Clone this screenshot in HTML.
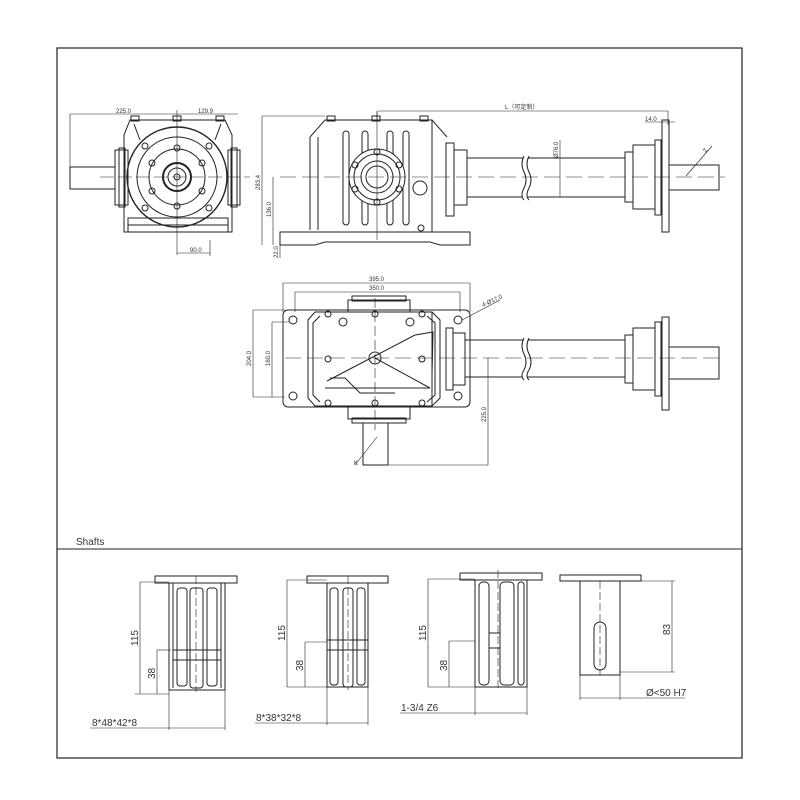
<!DOCTYPE html>
<html><head><meta charset="utf-8"><style>
html,body{margin:0;padding:0;background:#fff;}
svg{display:block;}
text{font-family:"Liberation Sans","Noto Sans CJK SC",sans-serif;fill:#333;}
</style></head><body>
<svg width="800" height="800" viewBox="0 0 800 800" xmlns="http://www.w3.org/2000/svg">
<g fill="none" stroke="#222" stroke-width="1">
<!-- frame -->
<rect x="57" y="48" width="685" height="710" stroke-width="1.2"/>
<line x1="57" y1="549" x2="742" y2="549"/>

<!-- ===== Front view (top-left) ===== -->
<line x1="70" y1="114" x2="238" y2="114" stroke-width="0.6"/>
<line x1="70" y1="114" x2="70" y2="189" stroke-width="0.6"/>
<rect x="70" y="167" width="45" height="22"/>
<path d="M130 120 H225 L232 135 V232 H124 V135 Z"/>
<path d="M134 124 L140 140 M221 124 L215 140"/>
<rect x="115" y="150" width="13" height="55"/>
<rect x="119" y="148" width="6" height="59"/>
<rect x="228" y="150" width="12" height="55"/>
<rect x="231" y="148" width="6" height="59"/>
<rect x="128" y="218" width="100" height="14"/>
<line x1="128" y1="225" x2="228" y2="225"/>
<circle cx="177" cy="177" r="50" stroke-width="1.4"/>
<circle cx="177" cy="177" r="40"/>
<circle cx="177" cy="177" r="28"/>
<circle cx="177" cy="177" r="14" stroke-width="2"/>
<circle cx="177" cy="177" r="9"/>
<circle cx="177" cy="177" r="3"/>
<circle cx="177" cy="148" r="3"/><circle cx="177" cy="206" r="3"/>
<circle cx="152" cy="163" r="3"/><circle cx="202" cy="163" r="3"/>
<circle cx="152" cy="191" r="3"/><circle cx="202" cy="191" r="3"/>
<circle cx="145" cy="146" r="3"/><circle cx="209" cy="146" r="3"/>
<circle cx="145" cy="208" r="3"/><circle cx="209" cy="208" r="3"/>
<rect x="173" y="116" width="8" height="5"/><rect x="131" y="116" width="8" height="5"/><rect x="216" y="116" width="8" height="5"/>
<line x1="177" y1="110" x2="177" y2="255" stroke-width="0.6"/>
<line x1="100" y1="177" x2="250" y2="177" stroke-width="0.6" stroke-dasharray="14 4"/>
<line x1="177" y1="253" x2="210" y2="253" stroke-width="0.6"/>
<line x1="210" y1="240" x2="210" y2="256" stroke-width="0.6"/>

<!-- ===== Side view (top-right) ===== -->
<line x1="262" y1="116" x2="262" y2="245" stroke-width="0.6"/>
<line x1="262" y1="116" x2="325" y2="116" stroke-width="0.6"/>
<line x1="273" y1="177" x2="273" y2="245" stroke-width="0.6"/>
<line x1="280" y1="232" x2="280" y2="258" stroke-width="0.6"/>
<line x1="377" y1="111" x2="668" y2="111" stroke-width="0.6"/>
<line x1="377" y1="111" x2="377" y2="120" stroke-width="0.6"/>
<line x1="668" y1="111" x2="668" y2="125" stroke-width="0.6"/>
<line x1="645" y1="122" x2="675" y2="122" stroke-width="0.6"/>
<path d="M310 137 L325 120 H432 L447 137"/>
<path d="M310 137 V230 M432 120 V232"/>
<path d="M318 137 V230"/>
<path d="M280 232 H470 V245 H440 L430 242 H325 L315 245 H280 Z"/>
<rect x="343" y="131" width="6" height="94" rx="3"/>
<rect x="362" y="131" width="6" height="94" rx="3"/>
<rect x="387" y="131" width="6" height="94" rx="3"/>
<rect x="403" y="131" width="6" height="94" rx="3"/>
<circle cx="377" cy="177" r="28" fill="#fff"/>
<circle cx="377" cy="177" r="23"/>
<circle cx="377" cy="177" r="16"/>
<circle cx="377" cy="177" r="11"/>
<circle cx="377" cy="152" r="3"/><circle cx="377" cy="202" r="3"/>
<circle cx="355" cy="165" r="3"/><circle cx="399" cy="165" r="3"/>
<circle cx="355" cy="189" r="3"/><circle cx="399" cy="189" r="3"/>
<circle cx="420" cy="188" r="7"/>
<circle cx="421" cy="228" r="3"/>
<rect x="372" y="116" width="8" height="5"/><rect x="327" y="116" width="8" height="5"/><rect x="420" y="116" width="8" height="5"/>
<rect x="446" y="143" width="8" height="73"/>
<rect x="454" y="150" width="13" height="55"/>
<path d="M467 158 H523 M528 158 H625 M467 197 H522 M527 197 H625"/>
<path d="M524 156 q-4 8 0 16 q4 8 0 16 q-4 8 0 12 M529 156 q-4 8 0 16 q4 8 0 16 q-4 8 0 12"/>
<line x1="560" y1="140" x2="560" y2="197" stroke-width="0.6"/>
<rect x="625" y="152" width="8" height="50"/>
<rect x="633" y="145" width="22" height="64"/>
<rect x="655" y="140" width="6" height="75"/>
<rect x="662" y="120" width="7" height="112"/>
<rect x="669" y="165" width="50" height="25"/>
<line x1="686" y1="176" x2="712" y2="146" stroke-width="0.6"/>
<line x1="280" y1="177" x2="725" y2="177" stroke-width="0.6" stroke-dasharray="16 6"/>
<line x1="377" y1="112" x2="377" y2="240" stroke-width="0.6"/>

<!-- ===== Plan view (middle) ===== -->
<line x1="283" y1="283" x2="470" y2="283" stroke-width="0.6"/>
<line x1="283" y1="283" x2="283" y2="312" stroke-width="0.6"/>
<line x1="470" y1="283" x2="470" y2="312" stroke-width="0.6"/>
<line x1="295" y1="292" x2="460" y2="292" stroke-width="0.6"/>
<line x1="295" y1="292" x2="295" y2="312" stroke-width="0.6"/>
<line x1="460" y1="292" x2="460" y2="312" stroke-width="0.6"/>
<line x1="253" y1="310" x2="253" y2="397" stroke-width="0.6"/>
<line x1="253" y1="310" x2="285" y2="310" stroke-width="0.6"/>
<line x1="253" y1="397" x2="285" y2="397" stroke-width="0.6"/>
<line x1="272" y1="322" x2="272" y2="397" stroke-width="0.6"/>
<line x1="272" y1="322" x2="290" y2="322" stroke-width="0.6"/>
<rect x="283" y="310" width="187" height="97" rx="5"/>
<path d="M315 312 L308 320 V398 L315 406 H432 V312 Z"/>
<path d="M320 316 L313 323 V395 L320 402"/>
<path d="M432 312 L440 320 V398 L432 406 M427 316 L435 323 V395 L427 402"/>
<rect x="348" y="300" width="62" height="12"/>
<rect x="352" y="296" width="54" height="5"/>
<rect x="348" y="407" width="62" height="12"/>
<rect x="352" y="418" width="54" height="5"/>
<circle cx="293" cy="320" r="4"/><circle cx="293" cy="396" r="4"/>
<circle cx="458" cy="320" r="4"/><circle cx="458" cy="396" r="4"/>
<circle cx="328" cy="314" r="3"/><circle cx="375" cy="314" r="3"/><circle cx="422" cy="314" r="3"/>
<circle cx="328" cy="403" r="3"/><circle cx="375" cy="403" r="3"/><circle cx="422" cy="403" r="3"/>
<circle cx="328" cy="359" r="3"/><circle cx="422" cy="359" r="3"/>
<circle cx="343" cy="322" r="4"/><circle cx="410" cy="322" r="4"/>
<circle cx="375" cy="358" r="6"/>
<path d="M327 381 L415 335 M375 358 L430 388 M325 388 L430 388 M330 378 L345 378 L360 393 L395 393"/>
<path d="M415 335 L433 332 L432 375"/>
<line x1="375" y1="298" x2="375" y2="430" stroke-width="0.6" stroke-dasharray="10 4"/>
<line x1="285" y1="358" x2="725" y2="358" stroke-width="0.6" stroke-dasharray="16 6"/>
<line x1="462" y1="320" x2="500" y2="300" stroke-width="0.6"/>
<rect x="446" y="328" width="7" height="62"/>
<rect x="453" y="333" width="12" height="52"/>
<path d="M465 340 H523 M528 340 H625 M465 377 H522 M527 377 H625"/>
<path d="M524 338 q-4 8 0 16 q4 8 0 16 q-4 6 0 10 M529 338 q-4 8 0 16 q4 8 0 16 q-4 6 0 10"/>
<rect x="625" y="335" width="8" height="48"/>
<rect x="633" y="328" width="22" height="62"/>
<rect x="655" y="322" width="6" height="74"/>
<rect x="662" y="317" width="7" height="93"/>
<rect x="669" y="347" width="50" height="32"/>
<line x1="488" y1="358" x2="488" y2="465" stroke-width="0.6"/>
<line x1="388" y1="465" x2="488" y2="465" stroke-width="0.6"/>
<rect x="363" y="423" width="25" height="42"/>
<line x1="355" y1="465" x2="377" y2="437" stroke-width="0.6"/>

<!-- ===== Shafts ===== -->
<!-- shaft 1 -->
<rect x="155" y="576" width="82" height="7"/>
<path d="M169 583 V690 H225 V583"/>
<path d="M173 583 V688 M221 583 V688"/>
<rect x="177" y="588" width="10" height="98" rx="3"/>
<rect x="190" y="588" width="13" height="100" rx="3"/>
<rect x="207" y="588" width="10" height="98" rx="3"/>
<line x1="173" y1="650" x2="221" y2="650"/><line x1="173" y1="660" x2="221" y2="660"/>
<line x1="196" y1="576" x2="196" y2="692" stroke-width="0.6" stroke-dasharray="8 3"/>
<line x1="140" y1="582" x2="140" y2="694" stroke-width="0.6"/>
<line x1="140" y1="582" x2="169" y2="582" stroke-width="0.6"/>
<line x1="135" y1="694" x2="169" y2="694" stroke-width="0.6"/>
<line x1="157" y1="650" x2="157" y2="694" stroke-width="0.6"/>
<line x1="157" y1="650" x2="171" y2="650" stroke-width="0.6"/>
<line x1="90" y1="728" x2="225" y2="728" stroke-width="0.6"/>
<line x1="169" y1="690" x2="169" y2="730" stroke-width="0.6"/>
<line x1="225" y1="690" x2="225" y2="730" stroke-width="0.6"/>
<!-- shaft 2 -->
<rect x="307" y="576" width="81" height="7"/>
<path d="M327 583 V687 H368 V583"/>
<rect x="330" y="588" width="8" height="97" rx="3"/>
<rect x="343" y="588" width="10" height="99" rx="3"/>
<rect x="357" y="588" width="8" height="97" rx="3"/>
<line x1="327" y1="640" x2="368" y2="640"/><line x1="327" y1="650" x2="368" y2="650"/>
<line x1="348" y1="576" x2="348" y2="690" stroke-width="0.6" stroke-dasharray="8 3"/>
<line x1="287" y1="580" x2="287" y2="687" stroke-width="0.6"/>
<line x1="287" y1="580" x2="327" y2="580" stroke-width="0.6"/>
<line x1="287" y1="687" x2="327" y2="687" stroke-width="0.6"/>
<line x1="305" y1="642" x2="305" y2="687" stroke-width="0.6"/>
<line x1="305" y1="642" x2="327" y2="642" stroke-width="0.6"/>
<line x1="255" y1="723" x2="368" y2="723" stroke-width="0.6"/>
<line x1="327" y1="687" x2="327" y2="725" stroke-width="0.6"/>
<line x1="368" y1="687" x2="368" y2="725" stroke-width="0.6"/>
<!-- shaft 3 -->
<rect x="460" y="573" width="82" height="7"/>
<path d="M475 580 V687 H527 V580"/>
<rect x="479" y="582" width="10" height="103" rx="4"/>
<rect x="500" y="582" width="14" height="103" rx="4"/>
<rect x="518" y="582" width="6" height="103" rx="3"/>
<line x1="489" y1="633" x2="500" y2="633"/><line x1="489" y1="648" x2="500" y2="648"/>
<line x1="498" y1="570" x2="498" y2="690" stroke-width="0.6" stroke-dasharray="8 3"/>
<line x1="428" y1="579" x2="428" y2="687" stroke-width="0.6"/>
<line x1="428" y1="579" x2="475" y2="579" stroke-width="0.6"/>
<line x1="428" y1="687" x2="475" y2="687" stroke-width="0.6"/>
<line x1="449" y1="641" x2="449" y2="687" stroke-width="0.6"/>
<line x1="449" y1="641" x2="475" y2="641" stroke-width="0.6"/>
<line x1="400" y1="713" x2="527" y2="713" stroke-width="0.6"/>
<line x1="475" y1="687" x2="475" y2="715" stroke-width="0.6"/>
<line x1="527" y1="687" x2="527" y2="715" stroke-width="0.6"/>
<!-- shaft 4 -->
<rect x="560" y="575" width="81" height="6"/>
<rect x="580" y="581" width="40" height="94"/>
<rect x="594" y="622" width="12" height="48" rx="6"/>
<line x1="600" y1="581" x2="600" y2="675" stroke-width="0.6" stroke-dasharray="8 3"/>
<line x1="672" y1="581" x2="672" y2="672" stroke-width="0.6"/>
<line x1="620" y1="581" x2="675" y2="581" stroke-width="0.6"/>
<line x1="620" y1="672" x2="675" y2="672" stroke-width="0.6"/>
<line x1="580" y1="698" x2="685" y2="698" stroke-width="0.6"/>
<line x1="580" y1="675" x2="580" y2="700" stroke-width="0.6"/>
<line x1="620" y1="675" x2="620" y2="700" stroke-width="0.6"/>
</g>

<g font-size="6">
<text x="116" y="113">225.0</text>
<text x="198" y="113">129.9</text>
<text x="190" y="252">90.0</text>
<text x="260" y="190" transform="rotate(-90 260 190)">283.4</text>
<text x="271" y="217" transform="rotate(-90 271 217)">136.0</text>
<text x="278" y="258" transform="rotate(-90 278 258)">22.0</text>
<text x="505" y="109">L（可定制）</text>
<text x="645" y="121">14.0</text>
<text x="558" y="158" transform="rotate(-90 558 158)">Ø76.0</text>
<text x="706" y="153" transform="rotate(-60 706 153)">Z</text>
<text x="369" y="281">395.0</text>
<text x="369" y="290">350.0</text>
<text x="483" y="307" transform="rotate(-25 483 307)">4-Ø17.0</text>
<text x="251" y="366" transform="rotate(-90 251 366)">204.0</text>
<text x="270" y="366" transform="rotate(-90 270 366)">160.0</text>
<text x="486" y="422" transform="rotate(-90 486 422)">225.0</text>
<text x="354" y="465">K</text>
</g>
<g font-size="10">
<text x="76" y="545">Shafts</text>
<text x="138" y="646" transform="rotate(-90 138 646)">115</text>
<text x="155" y="679" transform="rotate(-90 155 679)">38</text>
<text x="92" y="726">8*48*42*8</text>
<text x="285" y="641" transform="rotate(-90 285 641)">115</text>
<text x="303" y="671" transform="rotate(-90 303 671)">38</text>
<text x="256" y="721">8*38*32*8</text>
<text x="426" y="641" transform="rotate(-90 426 641)">115</text>
<text x="447" y="671" transform="rotate(-90 447 671)">38</text>
<text x="401" y="711">1-3/4 Z6</text>
<text x="670" y="635" transform="rotate(-90 670 635)">83</text>
<text x="646" y="696">Ø&lt;50 H7</text>
</g>
</svg>
</body></html>
